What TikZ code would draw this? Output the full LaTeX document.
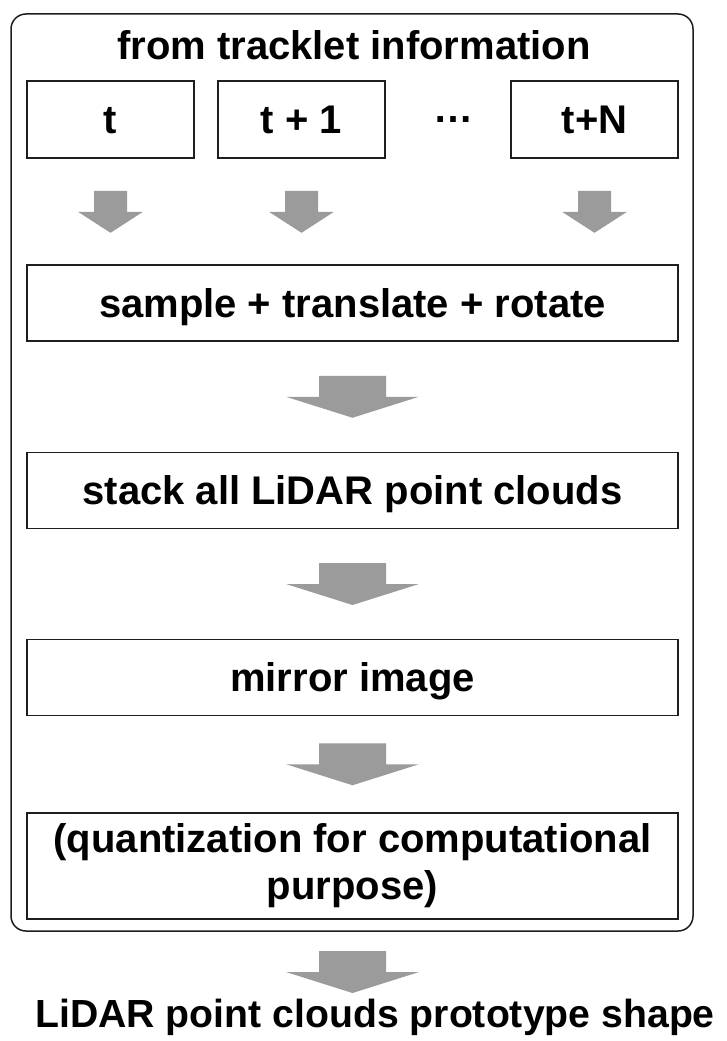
\documentclass[tikz,border=0pt]{standalone}
\usepackage{fontspec}
\setmainfont{Liberation Sans}
\usetikzlibrary{calc}
\definecolor{arrowgray}{RGB}{155,155,155}
\definecolor{edgecol}{RGB}{30,30,30}
\tikzset{
  txt/.style={font=\fontsize{40}{47}\selectfont\bfseries, inner sep=0pt},
  lbl/.style={txt, text height=28.6pt, text depth=0pt},
  framed/.style={draw=edgecol, line width=1.6pt, fill=white},
  smallbox/.style={lbl, framed, minimum width=167pt, minimum height=77pt},
  widebox/.style={lbl, framed, minimum width=651pt, minimum height=76pt},
  bigarrow/.pic={\fill[arrowgray] (-33.5,-21)--(33.5,-21)--(33.5,0)--(66.5,0)
      --(0,21)--(-66.5,0)--(-33.5,0)--cycle;},
  smallarrow/.pic={\fill[arrowgray] (-16.5,-21)--(16.5,-21)--(16.5,0)--(32.5,0)
      --(0,21)--(-32.5,0)--(-16.5,0)--cycle;}
}
\begin{document}
\begin{tikzpicture}[x=1pt,y=-1pt]
  \useasboundingbox (0,0) rectangle (726,1041);
  \fill[white] (0,0) rectangle (726,1041);

  % enclosing frame of the tracklet pipeline
  \draw[edgecol, line width=1.5pt, rounded corners=15pt] (11,14) rectangle (693,931);
  \node[lbl] (title) at (354,45.5) {from tracklet information};

  % frames of the tracklet
  \node[smallbox] (f0) at (110.5,119.5) {t};
  \node[smallbox] (f1) at (301.5,119.5) {t + 1};
  \node[smallbox] (fN) at (594.5,119.5) {t+N};
  \node[txt, anchor=base] (dots) at (453,122) {…};

  % processing steps
  \node[widebox] (sample) at (352.5,303) {sample + translate + rotate};
  \node[widebox] (stack)  at (352.5,490.5) {stack all LiDAR point clouds};
  \node[widebox] (mirror) at (352.5,677.5) {mirror image};
  \node[txt, framed, minimum width=651pt, minimum height=106pt, align=center]
        (quant) at (352.5,866) {(quantization for computational\\purpose)};

  \node[lbl, font=\fontsize{39.2}{47}\selectfont\bfseries] (result) at (375,1013)
        {LiDAR point clouds prototype shape};

  % block arrows between the stages
  \pic at ($(f0.south)+(0,53)$) {smallarrow};
  \pic at ($(f1.south)+(0,53)$) {smallarrow};
  \pic at ($(fN.south)+(0,53)$) {smallarrow};
  \pic at ($(sample.south)!0.5!(stack.north)$) {bigarrow};
  \pic at ($(stack.south)!0.5!(mirror.north)$) {bigarrow};
  \pic at ($(mirror.south)!0.5!(quant.north)$) {bigarrow};
  \pic at (352.5,972) {bigarrow};
\end{tikzpicture}
\end{document}
